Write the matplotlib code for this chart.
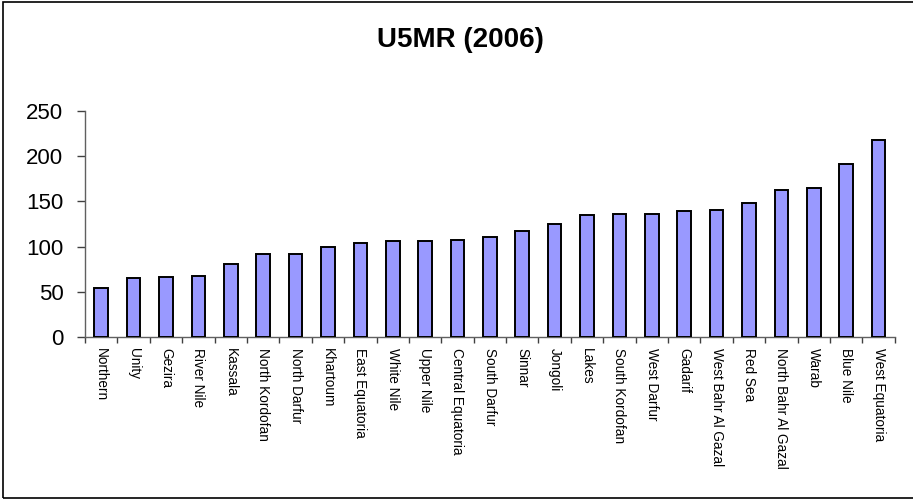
import matplotlib
matplotlib.use("Agg")
import matplotlib.pyplot as plt
from matplotlib.patches import Rectangle
import numpy as np

# Under-five mortality rate by state, 2006
states = [
    "Northern", "Unity", "Gezira", "River Nile", "Kassala", "North Kordofan",
    "North Darfur", "Khartoum", "East Equatoria", "White Nile", "Upper Nile",
    "Central Equatoria", "South Darfur", "Sinnar", "Jongoli", "Lakes",
    "South Kordofan", "West Darfur", "Gadarif", "West Bahr Al Gazal",
    "Red Sea", "North Bahr Al Gazal", "Warab", "Blue Nile", "West Equatoria",
]
u5mr = [54, 65, 66, 68, 81, 92, 92, 100, 104, 106, 106, 107, 111, 117, 125,
        135, 136, 136, 139, 141, 148, 163, 165, 191, 218]
yticks = [0, 50, 100, 150, 200, 250]

plt.rcParams["font.family"] = ["Liberation Sans", "DejaVu Sans"]

fig = plt.figure(figsize=(9.13, 4.99), dpi=100)
ax = fig.add_axes([0.0931, 0.3246, 0.8869, 0.453])

x = np.arange(len(states))
ax.bar(x, u5mr, width=0.42, color="#9999FF", edgecolor="black", linewidth=1.4,
       zorder=3)

ax.set_xlim(-0.5, len(states) - 0.5)
ax.set_ylim(0, 250)
ax.set_yticks(yticks)
ax.set_yticklabels([str(v) for v in yticks], fontsize=16)

# category labels sit under the bars, tick marks go between categories
ax.set_xticks(x)
ax.set_xticklabels(states, rotation=-90, fontsize=9.8, va="top", ha="center")
ax.tick_params(axis="x", which="major", length=0, pad=8)
ax.set_xticks(np.arange(len(states) + 1) - 0.5, minor=True)
ax.tick_params(axis="x", which="minor", direction="out", length=4,
               color="#404040", width=1)
ax.tick_params(axis="y", direction="out", length=5.5, color="#404040", width=1,
               pad=10)

for side in ("top", "right"):
    ax.spines[side].set_visible(False)
for side in ("left", "bottom"):
    ax.spines[side].set_color("#606060")
    ax.spines[side].set_linewidth(1)

fig.text(0.5045, 0.92, "U5MR (2006)", fontsize=20, fontweight="bold",
         ha="center", va="center")

# chart-area frame
fig.patches.append(Rectangle((2.5 / 913, 1.5 / 499), 1.1, 1 - 3 / 499,
                             transform=fig.transFigure, fill=False,
                             edgecolor="black", linewidth=1.2))

fig.savefig("out.png", dpi=100)
